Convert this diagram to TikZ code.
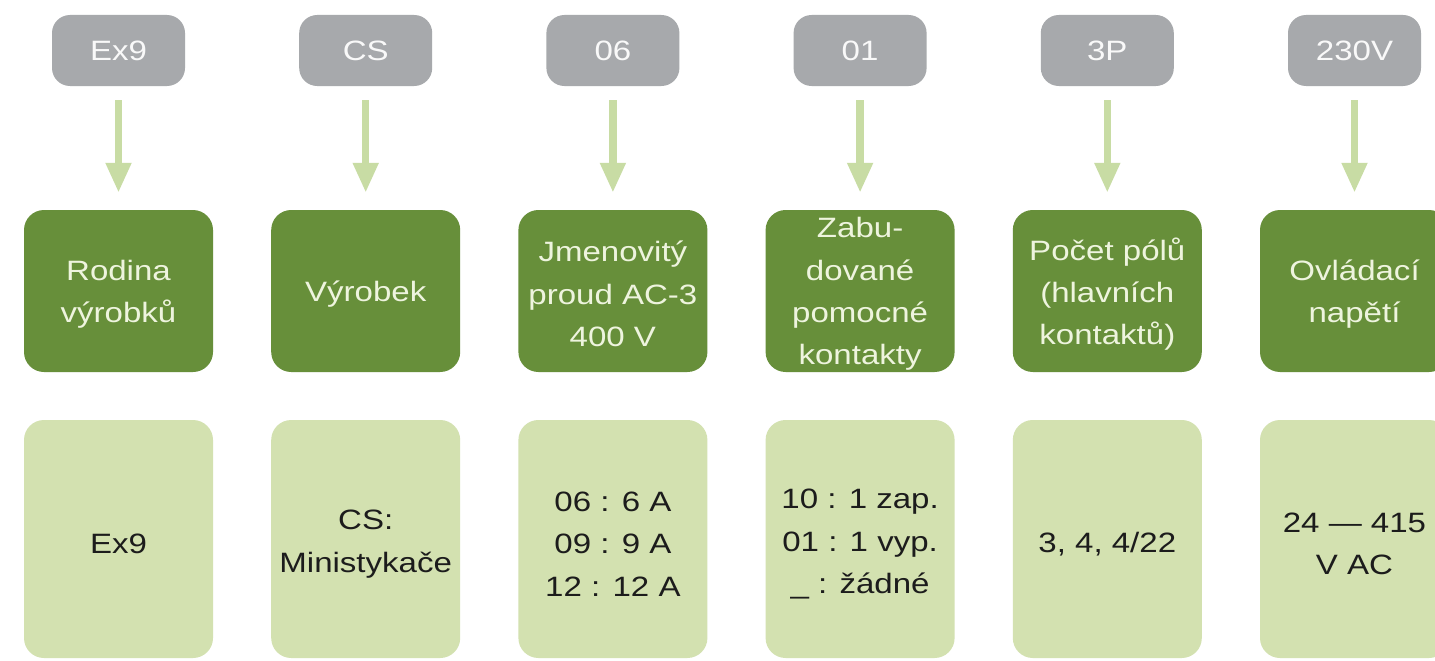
\documentclass[tikz,border=0pt]{standalone}
\usepackage{fontspec}
\setmainfont{Liberation Sans}[FakeStretch=1.18]
\usetikzlibrary{arrows.meta}
\definecolor{codegray}{HTML}{A7A9AC}
\definecolor{darkgreen}{HTML}{678F3A}
\definecolor{lightgreen}{HTML}{D3E1B0}
\definecolor{arrowgreen}{HTML}{C8DCA4}
\definecolor{cream}{HTML}{EEF4DE}
\definecolor{textdark}{HTML}{1C1C1C}
\tikzset{
  codebox/.style={fill=codegray, rounded corners=18pt, minimum width=133pt, minimum height=71pt, text=white!95!gray, inner sep=0pt, font=\fontsize{28}{40}\selectfont},
  titlebox/.style={fill=darkgreen, rounded corners=20pt, minimum width=189pt, minimum height=162pt, inner sep=0pt},
  titletext/.style={text=cream, align=center, inner sep=0pt, font=\fontsize{28}{42.3}\selectfont},
  valbox/.style={fill=lightgreen, rounded corners=20pt, minimum width=189pt, minimum height=238pt, inner sep=0pt},
  valtext/.style={text=textdark, align=center, inner sep=0pt, font=\fontsize{28}{42.5}\selectfont},
  flow/.style={draw=arrowgreen, line width=7.5pt, -{Triangle[width=24pt,length=30pt]}, shorten <=14pt, shorten >=17pt}
}
\begin{document}
\begin{tikzpicture}[x=1pt,y=1pt]
\useasboundingbox[fill=white] (0,0) rectangle (1435,-661);
\foreach \i/\code/\title/\val in {
  0/Ex9/{Rodina\\výrobků}/{Ex9},
  1/CS/{Výrobek}/{CS:\\Ministykače},
  2/06/{Jmenovitý\\proud AC-3\\400 V}/{06 : 6 A\\09 : 9 A\\12 : 12 A},
  3/01/{Zabu-\\dované\\pomocné\\kontakty}/{10 : 1 zap.\\01 : 1 vyp.\\\_ : žádné},
  4/3P/{Počet pólů\\(hlavních\\kontaktů)}/{3, 4, 4/22},
  5/230V/{Ovládací\\napětí}/{24 — 415\\V AC}}
{
  \pgfmathsetmacro{\cx}{118.5+247.2*\i}
  \node[codebox] (g\i) at (\cx,-50.5) {\code};
  \node[titlebox] (t\i) at (\cx,-291) {};
  \node[titletext] (tt\i) at ([yshift=-3pt]t\i.center) {\title};
  \node[valbox] (v\i) at (\cx,-539) {};
  \node[valtext] (vt\i) at ([yshift=-5pt]v\i.center) {\val};
  \draw[flow] (g\i.south) -- (t\i.north);
}
\end{tikzpicture}
\end{document}
